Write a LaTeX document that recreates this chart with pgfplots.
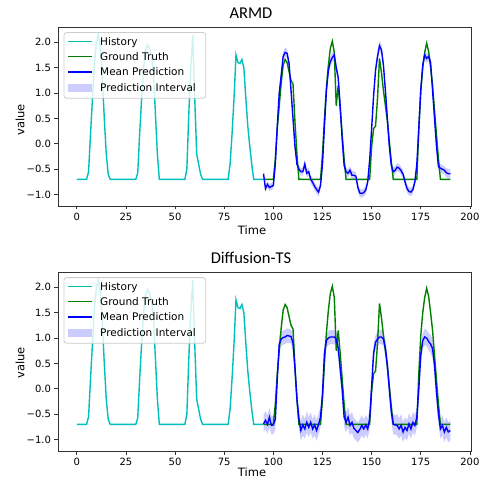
\documentclass[border=0pt]{standalone}
\usepackage{fontspec}
\setmainfont{DejaVu Sans}
\newfontfamily\titlefont{Carlito}
\usepackage{pgfplots}
\usepackage{pgfplotstable}
\pgfplotsset{compat=1.18}
\usepgfplotslibrary{fillbetween}

\definecolor{histc}{RGB}{0,191,191}
\definecolor{truthc}{RGB}{0,128,0}
\definecolor{predc}{RGB}{0,0,255}

% history (same in both panels)
\pgfplotstableread{
x y
0 -0.70
5 -0.70
6 -0.55
7 0.20
8 0.90
9 1.60
10 2.00
11 2.14
12 1.90
13 1.30
14 0.50
15 -0.20
16 -0.60
17 -0.70
30 -0.70
31 -0.58
32 0.20
33 0.90
34 1.50
35 1.85
36 1.95
37 1.88
38 1.75
39 1.40
40 0.60
41 -0.20
42 -0.70
55 -0.70
56 -0.50
57 0.60
58 1.50
59 2.14
60 0.90
61 -0.20
62 -0.40
63 -0.60
64 -0.70
77 -0.70
78 -0.40
79 0.20
80 0.90
81 1.75
82 1.60
83 1.58
84 1.66
85 1.50
86 0.90
87 0.35
88 -0.05
89 -0.40
90 -0.70
95 -0.70
}\histdata

% ground truth (same in both panels)
\pgfplotstableread{
x y
95 -0.70
100 -0.70
101 -0.30
102 0.30
103 0.75
104 1.20
105 1.55
106 1.66
107 1.60
108 1.42
109 1.25
110 1.18
111 0.43
112 -0.20
113 -0.70
124 -0.70
125 -0.20
126 0.50
127 1.10
128 1.55
129 1.88
130 2.02
131 1.80
132 0.75
133 1.15
134 0.70
135 0.20
136 -0.30
137 -0.70
149 -0.70
150 -0.05
151 0.30
152 0.35
153 0.90
154 1.68
155 1.40
156 1.05
157 0.75
158 0.45
159 0.05
160 -0.35
161 -0.70
173 -0.70
174 0.30
175 1.05
176 1.50
177 1.80
178 1.98
179 1.82
180 1.50
181 1.15
182 0.65
183 0.17
184 -0.30
185 -0.70
190 -0.70
}\truthdata

% ARMD: mean, lower, upper
\pgfplotstableread{
x m lo hi
95 -0.59 -0.66 -0.52
96 -0.88 -0.95 -0.81
97 -0.80 -0.87 -0.73
98 -0.86 -0.93 -0.79
99 -0.84 -0.91 -0.77
100 -0.82 -0.89 -0.75
101 -0.40 -0.48 -0.32
102 0.35 0.26 0.44
103 1.00 0.91 1.09
104 1.35 1.27 1.43
105 1.72 1.63 1.81
106 1.80 1.71 1.90
107 1.78 1.69 1.87
108 1.58 1.49 1.67
109 1.05 0.96 1.14
110 0.50 0.41 0.59
111 -0.05 -0.13 0.03
112 -0.40 -0.47 -0.33
113 -0.50 -0.57 -0.43
114 -0.55 -0.62 -0.48
115 -0.55 -0.63 -0.47
116 -0.40 -0.49 -0.31
117 -0.58 -0.66 -0.50
118 -0.55 -0.63 -0.47
119 -0.70 -0.78 -0.62
120 -0.76 -0.84 -0.68
121 -0.84 -0.92 -0.76
122 -0.90 -0.98 -0.82
123 -0.95 -1.04 -0.86
124 -0.82 -0.90 -0.74
125 -0.40 -0.48 -0.32
126 0.35 0.26 0.44
127 1.05 0.96 1.14
128 1.45 1.36 1.54
129 1.62 1.53 1.71
130 1.70 1.61 1.79
131 1.75 1.66 1.84
132 1.50 1.41 1.59
133 1.30 1.21 1.39
134 0.75 0.66 0.84
135 0.10 0.02 0.18
136 -0.42 -0.50 -0.34
137 -0.55 -0.63 -0.47
138 -0.58 -0.66 -0.50
139 -0.52 -0.60 -0.44
140 -0.62 -0.70 -0.54
141 -0.62 -0.70 -0.54
142 -0.64 -0.72 -0.56
143 -0.86 -0.94 -0.78
144 -0.97 -1.05 -0.89
145 -0.98 -1.06 -0.90
146 -0.96 -1.04 -0.88
147 -0.91 -0.99 -0.83
148 -0.75 -0.83 -0.67
149 -0.32 -0.40 -0.24
150 0.30 0.21 0.39
151 0.95 0.86 1.04
152 1.45 1.36 1.54
153 1.72 1.63 1.81
154 1.93 1.83 2.03
155 1.85 1.75 1.95
156 1.55 1.46 1.64
157 1.05 0.96 1.14
158 0.50 0.41 0.59
159 -0.05 -0.13 0.03
160 -0.42 -0.50 -0.34
161 -0.55 -0.63 -0.47
162 -0.52 -0.60 -0.44
163 -0.46 -0.54 -0.38
164 -0.48 -0.56 -0.40
165 -0.53 -0.61 -0.45
166 -0.60 -0.68 -0.52
167 -0.75 -0.83 -0.67
168 -0.88 -0.96 -0.80
169 -0.94 -1.02 -0.86
170 -0.95 -1.03 -0.87
171 -0.90 -0.98 -0.82
172 -0.75 -0.83 -0.67
173 -0.40 -0.48 -0.32
174 0.30 0.21 0.39
175 1.05 0.96 1.14
176 1.55 1.46 1.64
177 1.75 1.66 1.84
178 1.68 1.59 1.77
179 1.72 1.63 1.81
180 1.60 1.51 1.69
181 1.05 0.96 1.14
182 0.50 0.41 0.59
183 -0.05 -0.13 0.03
184 -0.45 -0.53 -0.37
185 -0.48 -0.56 -0.40
186 -0.50 -0.58 -0.42
187 -0.52 -0.60 -0.44
188 -0.57 -0.66 -0.48
189 -0.59 -0.68 -0.50
190 -0.59 -0.68 -0.50
}\armd

% Diffusion-TS: mean, lower, upper
\pgfplotstableread{
x m lo hi
95 -0.69 -0.86 -0.52
96 -0.62 -0.80 -0.44
97 -0.70 -0.88 -0.52
98 -0.56 -0.76 -0.38
99 -0.72 -0.90 -0.54
100 -0.71 -0.89 -0.53
101 -0.60 -0.80 -0.42
102 0.20 0.00 0.40
103 0.88 0.72 1.04
104 0.98 0.84 1.12
105 1.01 0.87 1.15
106 1.02 0.88 1.16
107 1.05 0.91 1.19
108 1.04 0.90 1.18
109 1.03 0.89 1.17
110 0.90 0.74 1.06
111 0.40 0.20 0.60
112 -0.20 -0.40 0.00
113 -0.59 -0.78 -0.40
114 -0.82 -1.02 -0.64
115 -0.71 -0.92 -0.50
116 -0.79 -0.98 -0.60
117 -0.66 -0.86 -0.44
118 -0.76 -0.95 -0.56
119 -0.66 -0.86 -0.46
120 -0.79 -0.98 -0.60
121 -0.71 -0.92 -0.50
122 -0.82 -1.02 -0.62
123 -0.70 -0.90 -0.48
124 -0.56 -0.76 -0.36
125 -0.10 -0.30 0.10
126 0.70 0.52 0.88
127 0.95 0.81 1.09
128 1.00 0.86 1.14
129 1.02 0.88 1.16
130 1.02 0.88 1.16
131 1.02 0.88 1.16
132 0.98 0.84 1.12
133 0.80 0.62 0.98
134 0.40 0.20 0.60
135 0.00 -0.20 0.20
136 -0.55 -0.74 -0.36
137 -0.66 -0.86 -0.46
138 -0.56 -0.76 -0.36
139 -0.72 -0.92 -0.52
140 -0.66 -0.86 -0.46
141 -0.78 -0.98 -0.58
142 -0.82 -1.02 -0.62
143 -0.86 -1.05 -0.66
144 -0.80 -1.00 -0.60
145 -0.72 -0.92 -0.52
146 -0.79 -0.98 -0.60
147 -0.71 -0.90 -0.52
148 -0.79 -0.98 -0.58
149 -0.59 -0.78 -0.40
150 0.05 -0.15 0.25
151 0.70 0.52 0.88
152 0.92 0.78 1.06
153 0.98 0.84 1.12
154 1.02 0.88 1.16
155 1.02 0.88 1.16
156 0.98 0.84 1.12
157 0.80 0.62 0.98
158 0.46 0.26 0.66
159 0.00 -0.20 0.20
160 -0.45 -0.64 -0.26
161 -0.70 -0.90 -0.50
162 -0.71 -0.90 -0.52
163 -0.72 -0.92 -0.50
164 -0.79 -0.98 -0.58
165 -0.72 -0.92 -0.50
166 -0.85 -1.05 -0.66
167 -0.76 -0.96 -0.56
168 -0.82 -1.02 -0.62
169 -0.69 -0.88 -0.48
170 -0.79 -0.98 -0.58
171 -0.66 -0.86 -0.46
172 -0.72 -0.92 -0.52
173 -0.56 -0.76 -0.36
174 0.00 -0.20 0.20
175 0.66 0.48 0.84
176 0.95 0.80 1.10
177 1.02 0.86 1.18
178 1.00 0.84 1.16
179 0.93 0.76 1.10
180 0.88 0.70 1.06
181 0.79 0.60 0.98
182 0.46 0.26 0.66
183 -0.07 -0.27 0.13
184 -0.50 -0.70 -0.30
185 -0.79 -0.98 -0.60
186 -0.72 -0.92 -0.52
187 -0.85 -1.05 -0.66
188 -0.76 -0.96 -0.56
189 -0.85 -1.05 -0.66
190 -0.82 -1.02 -0.62
}\diffts

\pgfplotsset{
  panel/.style={
    scale only axis, width=413pt, height=179pt,
    xmin=-9.55, xmax=200.55, ymin=-1.225, ymax=2.30,
    xtick={0,25,...,200},
    ytick={-1,-0.5,0,0.5,1,1.5,2},
    yticklabels={−1.0,−0.5,0.0,0.5,1.0,1.5,2.0},
    tick align=outside, tick pos=left, major tick length=3.5pt,
    every tick/.style={black!80, line width=0.7pt},
    axis line style={black!80, line width=0.7pt},
    tick label style={font=\fontsize{10}{12}\selectfont},
    /pgf/number format/assume math mode=true,
  },
  lw/.style={line width=1.4pt},
}

% legend box, drawn in the upper left corner of the current axis
\newcommand{\mylegend}{%
  \pgfplotsextra{%
  \begin{scope}[shift={(rel axis cs:0,1)}, font=\fontsize{10.5}{12}\selectfont]
    \draw[black!20, line width=0.8pt, rounded corners=2.5pt, fill=white, fill opacity=0.8]
      (6pt,-5.6pt) rectangle (147.7pt,-71.2pt);
    \draw[histc, line width=1.4pt] (10.3pt,-14.4pt) -- (33.7pt,-14.4pt);
    \draw[truthc, line width=1.4pt] (10.3pt,-29.6pt) -- (33.7pt,-29.6pt);
    \draw[predc, line width=1.4pt] (10.3pt,-45.1pt) -- (33.7pt,-45.1pt);
    \fill[predc, fill opacity=0.2] (10.3pt,-56.8pt) rectangle (33.7pt,-64.6pt);
    \node[anchor=base west, inner sep=0pt] at (42pt,-18.2pt) {History};
    \node[anchor=base west, inner sep=0pt] at (42pt,-33.4pt) {Ground Truth};
    \node[anchor=base west, inner sep=0pt] at (42pt,-48.9pt) {Mean Prediction};
    \node[anchor=base west, inner sep=0pt] at (42pt,-64.5pt) {Prediction Interval};
  \end{scope}}}

\begin{document}
\begin{tikzpicture}
\path (0,0) rectangle (485pt,-479pt);

\begin{axis}[panel, at={(58pt,-27pt)}, anchor=north west]
  \addplot[histc, lw] table[x=x, y=y] {\histdata};
  \addplot[truthc, lw] table[x=x, y=y] {\truthdata};
  \addplot[predc, lw] table[x=x, y=m] {\armd};
  \addplot[draw=none, name path=alo] table[x=x, y=lo] {\armd};
  \addplot[draw=none, name path=ahi] table[x=x, y=hi] {\armd};
  \addplot[predc, fill opacity=0.2, draw=none] fill between[of=ahi and alo];
  \mylegend
\end{axis}

\begin{axis}[panel, at={(58pt,-272pt)}, anchor=north west]
  \addplot[histc, lw] table[x=x, y=y] {\histdata};
  \addplot[truthc, lw] table[x=x, y=y] {\truthdata};
  \addplot[predc, lw] table[x=x, y=m] {\diffts};
  \addplot[draw=none, name path=dlo] table[x=x, y=lo] {\diffts};
  \addplot[draw=none, name path=dhi] table[x=x, y=hi] {\diffts};
  \addplot[predc, fill opacity=0.2, draw=none] fill between[of=dhi and dlo];
  \mylegend
\end{axis}

% titles and axis labels
\node[font=\titlefont\fontsize{16.5}{18}\selectfont] at (251pt,-13pt) {ARMD};
\node[font=\titlefont\fontsize{16.5}{18}\selectfont] at (251pt,-258pt) {Diffusion-TS};
\node[font=\fontsize{11.5}{13}\selectfont] at (252pt,-230pt) {Time};
\node[font=\fontsize{11.5}{13}\selectfont] at (252pt,-472pt) {Time};
\node[font=\fontsize{11.5}{13}\selectfont, rotate=90] at (20pt,-120pt) {value};
\node[font=\fontsize{11.5}{13}\selectfont, rotate=90] at (20pt,-363pt) {value};
\end{tikzpicture}
\end{document}
